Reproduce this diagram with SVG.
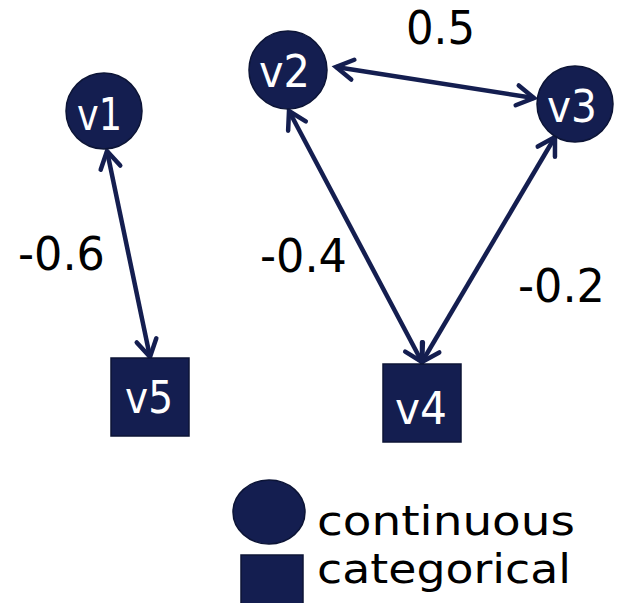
<svg xmlns="http://www.w3.org/2000/svg" width="618" height="603" viewBox="0 0 618 603">
  <style>
    .node { fill: #141e50; stroke: #0c1436; stroke-width: 1.5; }
    .nl { fill: #ffffff; font-family: "DejaVu Sans", sans-serif; font-size: 44px; }
    .el { fill: #000000; font-family: "DejaVu Sans", sans-serif; font-size: 46px; }
    .lg { fill: #000000; font-family: "DejaVu Sans", sans-serif; font-size: 40px; }
    .edge { stroke: #141e50; stroke-width: 4.5; fill: none; marker-start: url(#ah); marker-end: url(#ah); }
  </style>
  <defs>
    <marker id="ah" markerUnits="userSpaceOnUse" markerWidth="30" markerHeight="30" viewBox="-22 -15 30 30" refX="0" refY="0" orient="auto-start-reverse" overflow="visible">
      <path d="M -17 -10 L 0 0 L -17 10" fill="none" stroke="#141e50" stroke-width="4.5" stroke-linecap="round" stroke-linejoin="miter"/>
    </marker>
  </defs>
  <rect width="618" height="603" fill="#ffffff"/>
  <g id="connectors">
    <line class="edge" x1="107" y1="151" x2="150" y2="357"/>
    <line class="edge" x1="336" y1="67" x2="534" y2="98"/>
    <line class="edge" x1="289" y1="111" x2="422" y2="362"/>
    <line class="edge" x1="555" y1="137" x2="422" y2="362"/>
  </g>
  <g id="edge-labels">
    <text class="el" x="18" y="270" textLength="87" lengthAdjust="spacingAndGlyphs">-0.6</text>
    <text class="el" x="260" y="272" textLength="87" lengthAdjust="spacingAndGlyphs">-0.4</text>
    <text class="el" x="518" y="302" textLength="87" lengthAdjust="spacingAndGlyphs">-0.2</text>
    <text class="el" x="406" y="44" textLength="69" lengthAdjust="spacingAndGlyphs">0.5</text>
  </g>
  <g id="v1">
    <circle class="node" cx="104" cy="111" r="38"/>
    <text class="nl" x="77" y="130" textLength="45" lengthAdjust="spacingAndGlyphs">v1</text>
  </g>
  <g id="v2">
    <circle class="node" cx="288" cy="70" r="39"/>
    <text class="nl" x="259" y="87" textLength="51" lengthAdjust="spacingAndGlyphs">v2</text>
  </g>
  <g id="v3">
    <circle class="node" cx="575" cy="104" r="38"/>
    <text class="nl" x="547" y="122" textLength="50" lengthAdjust="spacingAndGlyphs">v3</text>
  </g>
  <g id="v5">
    <rect class="node" x="111" y="358" width="78" height="78"/>
    <text class="nl" x="125" y="413" textLength="48" lengthAdjust="spacingAndGlyphs">v5</text>
  </g>
  <g id="v4">
    <rect class="node" x="383" y="364" width="78" height="78"/>
    <text class="nl" x="395" y="424" textLength="52" lengthAdjust="spacingAndGlyphs">v4</text>
  </g>
  <g id="legend">
    <ellipse class="node" cx="269" cy="512" rx="36" ry="32"/>
    <rect class="node" x="241" y="555" width="62" height="50"/>
    <text class="lg" x="317" y="535" textLength="258" lengthAdjust="spacingAndGlyphs">continuous</text>
    <text class="lg" x="317" y="583" textLength="254" lengthAdjust="spacingAndGlyphs">categorical</text>
  </g>
</svg>
